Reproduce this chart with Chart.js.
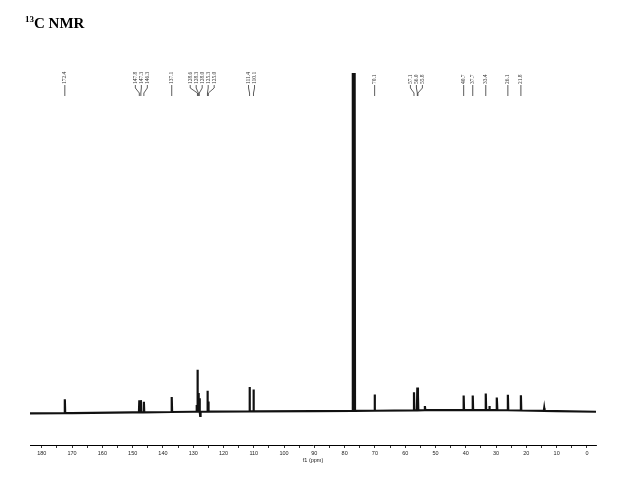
<!DOCTYPE html>
<html>
<head>
<meta charset="utf-8">
<script src="https://cdn.jsdelivr.net/npm/chart.js@4/dist/chart.umd.min.js"></script>
<style>
  html, body { margin: 0; padding: 0; background: #fff; }
</style>
</head>
<body>
<canvas id="nmr" width="640" height="480"></canvas>
<script>
// peaks: shift (ppm) and height (solvent line = 100)
const peakShift  = [172.4, 147.8, 147.3, 146.3, 137.1, 128.9, 128.6, 128.3, 128.0, 127.7,
                    125.3, 125.0, 111.4, 110.1, 77.3, 77.1, 76.9, 76.7, 70.1, 57.1, 56.0, 55.8,
                    53.5, 40.7, 37.7, 33.4, 32.2, 29.7, 26.1, 21.8, 14.1];
const peakHeight = [4.1, 3.6, 3.6, 3.1, 4.4, 2.0, 12.4, 5.5, 4.0, -1.2,
                    6.2, 3.0, 7.2, 6.5, 100, 100, 100, 100, 4.8, 5.3, 6.7, 4.5,
                    1.2, 4.3, 4.3, 4.9, 1.2, 3.7, 4.6, 4.5, 0.8];

// shifts printed above the spectrum
const labelShift = [172.4, 147.8, 147.3, 146.3, 137.1, 128.6, 128.3, 128.0, 125.3, 125.0,
                    111.4, 110.1, 70.1, 57.1, 56.0, 55.8, 40.7, 37.7, 33.4, 26.1, 21.8];

// baseline level along the spectrum
const baseShift = [183.9, 170, 150, 130, 110, 90, 70, 50, 30, 10, -3];
const baseLevel = [-0.4, -0.3, -0.1, 0.1, 0.2, 0.3, 0.4, 0.6, 0.6, 0.3, 0.1];

// axis ticks (labels on the tens)
const tickValues = [0, 5, 10, 15, 20, 25, 30, 35, 40, 45, 50, 55, 60, 65, 70, 75, 80, 85, 90,
                    95, 100, 105, 110, 115, 120, 125, 130, 135, 140, 145, 150, 155, 160, 165,
                    170, 175, 180];

// half width of a line (ppm)
const W = 0.12;

function baseAt(x) {
  for (let i = 1; i < baseShift.length; i++) {
    if (x >= baseShift[i]) {
      const t = (baseShift[i - 1] - x) / (baseShift[i - 1] - baseShift[i]);
      return baseLevel[i - 1] + t * (baseLevel[i] - baseLevel[i - 1]);
    }
  }
  return baseLevel[baseLevel.length - 1];
}

// put the trace together from the baseline and peak lists
const trace = [];
baseShift.forEach((x, i) => {
  if (!peakShift.some(p => Math.abs(p - x) < W)) trace.push({ x: x, y: baseLevel[i] });
});
peakShift.forEach((p, k) => {
  const b = baseAt(p);
  if (k === 0 || peakShift[k - 1] - p >= 2 * W) trace.push({ x: p + W, y: baseAt(p + W) });
  trace.push({ x: p, y: b + peakHeight[k] });
  if (k === peakShift.length - 1 || p - peakShift[k + 1] >= 2 * W) trace.push({ x: p - W, y: baseAt(p - W) });
});
trace.sort((a, b) => b.x - a.x);

const textPlugin = {
  id: 'textPlugin',
  afterDraw(chart) {
    const ctx = chart.ctx;
    const xs = chart.scales.x;
    const area = chart.chartArea;
    ctx.save();

    // title
    ctx.fillStyle = '#000';
    ctx.textBaseline = 'alphabetic';
    ctx.textAlign = 'left';
    ctx.font = 'bold 9px "Liberation Serif"';
    ctx.fillText('13', 25, 22);
    ctx.font = 'bold 15px "Liberation Serif"';
    ctx.fillText('C NMR', 34, 28);

    // axis title
    ctx.font = '5.5px "Liberation Sans"';
    ctx.fillStyle = '#222';
    ctx.textAlign = 'center';
    ctx.fillText('f1 (ppm)', (area.left + area.right) / 2, 462);

    // peak labels, spread out so they do not overlap
    const px = labelShift.map(v => xs.getPixelForValue(v));
    const lx = px.slice();
    const gap = 6;
    for (let it = 0; it < 300; it++) {
      let moved = false;
      for (let i = 1; i < lx.length; i++) {
        const d = lx[i] - lx[i - 1];
        if (d < gap - 0.01) {
          const s = (gap - d) / 2;
          lx[i - 1] -= s;
          lx[i] += s;
          moved = true;
        }
      }
      if (!moved) break;
    }

    ctx.strokeStyle = '#333';
    ctx.lineWidth = 0.8;
    ctx.font = '5.5px "Liberation Serif"';
    ctx.fillStyle = '#333';
    labelShift.forEach((v, i) => {
      ctx.beginPath();
      if (Math.abs(lx[i] - px[i]) < 0.5) {
        ctx.moveTo(px[i], 85);
        ctx.lineTo(px[i], 96);
      } else {
        ctx.moveTo(lx[i], 85);
        ctx.lineTo(lx[i], 88);
        ctx.lineTo(px[i], 93);
        ctx.lineTo(px[i], 96);
      }
      ctx.stroke();

      ctx.save();
      ctx.translate(lx[i], 84);
      ctx.rotate(-Math.PI / 2);
      ctx.textAlign = 'left';
      ctx.textBaseline = 'middle';
      ctx.fillText(v.toFixed(1), 0, 0);
      ctx.restore();
    });
    ctx.restore();
  }
};

const config = {
  type: 'line',
  data: {
    datasets: [{
      data: trace,
      borderColor: '#111',
      borderWidth: 2.2,
      pointRadius: 0,
      tension: 0,
      fill: false
    }]
  },
  options: {
    responsive: false,
    animation: false,
    devicePixelRatio: 1,
    layout: { padding: { left: 30, right: 44, top: 73, bottom: 0 } },
    plugins: {
      legend: { display: false },
      tooltip: { enabled: false }
    },
    scales: {
      x: {
        type: 'linear',
        reverse: true,
        min: -3,
        max: 183.9,
        afterBuildTicks: s => { s.ticks = tickValues.map(v => ({ value: v })); },
        afterFit: s => { s.height = 35; },
        grid: { drawOnChartArea: false, drawTicks: true, tickLength: 3, color: '#000', lineWidth: 0.8 },
        border: { display: true, color: '#000', width: 1 },
        ticks: {
          autoSkip: false,
          maxRotation: 0,
          padding: 2,
          color: '#222',
          font: { size: 5.5, family: 'Liberation Sans' },
          callback: v => (v % 10 === 0 ? String(v) : '')
        }
      },
      y: {
        display: false,
        min: -9.7,
        max: 100
      }
    }
  },
  plugins: [textPlugin]
};

var nmrChart = new Chart(document.getElementById('nmr'), config);
</script>
</body>
</html>
